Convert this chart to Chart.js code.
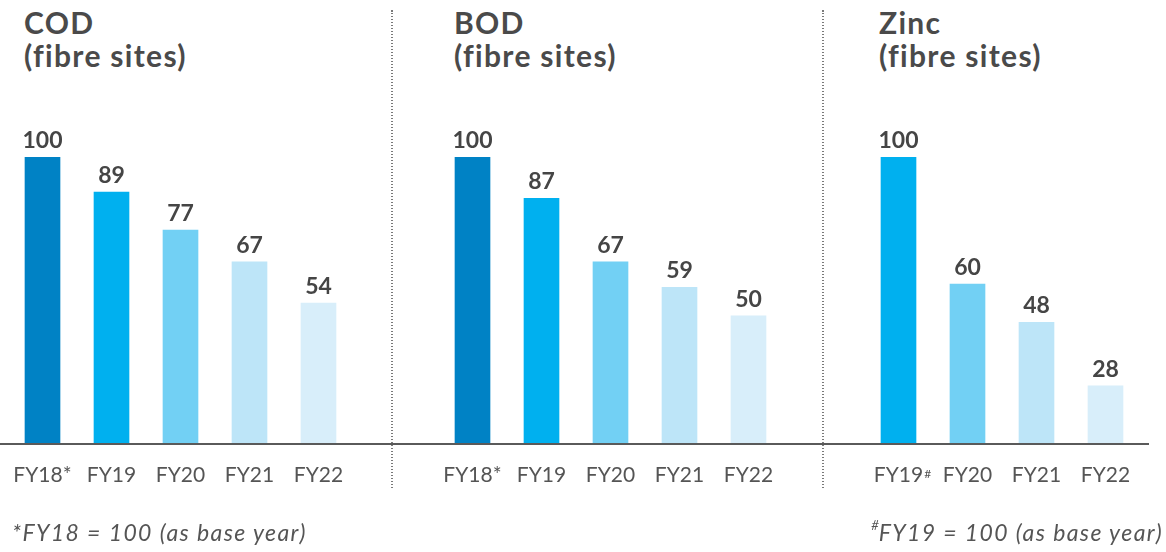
<!DOCTYPE html>
<html><head><meta charset="utf-8">
<script src="https://cdn.jsdelivr.net/npm/chart.js@4.4.1/dist/chart.umd.min.js"></script>
<style>
html,body{margin:0;padding:0;background:#fff;}
body{width:1166px;height:552px;position:relative;overflow:hidden;font-family:Lato,"Open Sans",sans-serif;}
canvas{position:absolute;top:0;}
.title{position:absolute;top:6px;font-family:Lato,sans-serif;font-weight:700;font-size:30px;line-height:33px;letter-spacing:1.3px;color:#4a4a4a;white-space:nowrap;}
.divider{position:absolute;top:10px;height:480px;width:2px;background:repeating-linear-gradient(to bottom,#7a7a7a 0 1.5px,transparent 1.5px 3px);}
.note{position:absolute;top:518px;font-family:Lato,sans-serif;font-style:italic;font-size:23px;letter-spacing:1.4px;color:#555;white-space:nowrap;}
.note sup{font-size:13px;position:relative;top:-2px;letter-spacing:0;}
</style>
</head><body>
<div class="title" style="left:24px">COD<br>(fibre sites)</div>
<div class="title" style="left:454px">BOD<br>(fibre sites)</div>
<div class="title" style="left:879px">Zinc<br>(fibre sites)</div>
<div class="divider" style="left:391px"></div>
<div class="divider" style="left:822px"></div>
<canvas id="c1" width="432" height="552" style="left:-40px"></canvas>
<canvas id="c2" width="431" height="552" style="left:392px"></canvas>
<canvas id="c3" width="343" height="552" style="left:823px"></canvas>
<div class="note" style="left:12px">*FY18 = 100 (as base year)</div>
<div class="note" style="right:3px"><sup>#</sup>FY19 = 100 (as base year)</div>
<script>
// ---- data ----
const codCategories = ['FY18*', 'FY19', 'FY20', 'FY21', 'FY22'];
const codValues = [100, 89, 77, 67, 54];
const bodCategories = ['FY18*', 'FY19', 'FY20', 'FY21', 'FY22'];
const bodValues = [100, 87, 67, 59, 50];
const zincCategories = ['FY19', 'FY20', 'FY21', 'FY22'];
const zincValues = [100, 60, 48, 28];
// ---- styles ----
const fiveColors = ['#0082c5', '#00b0ef', '#72d0f4', '#bde5f8', '#d8eefa'];
const fourColors = ['#00b0ef', '#72d0f4', '#bde5f8', '#d8eefa'];

const valueLabels = {
  id: 'valueLabels',
  afterDatasetsDraw(chart) {
    const ctx = chart.ctx;
    const meta = chart.getDatasetMeta(0);
    const data = chart.data.datasets[0].data;
    ctx.save();
    ctx.font = '700 23px Lato, sans-serif';
    ctx.fillStyle = '#454545';
    ctx.textAlign = 'center';
    ctx.textBaseline = 'alphabetic';
    meta.data.forEach((bar, i) => ctx.fillText(String(data[i]), bar.x, bar.y - 9));
    ctx.restore();
  }
};
const baseLine = {
  id: 'baseLine',
  afterDatasetsDraw(chart, args, opts) {
    const ctx = chart.ctx;
    const y = chart.chartArea.bottom + 1;
    ctx.save();
    ctx.strokeStyle = '#5a5a5a';
    ctx.lineWidth = 2;
    ctx.beginPath();
    ctx.moveTo(opts.start || 0, y);
    ctx.lineTo(opts.end, y);
    ctx.stroke();
    ctx.restore();
  }
};
const supMark = {
  id: 'supMark',
  afterDraw(chart, args, opts) {
    if (!opts.text) return;
    const ctx = chart.ctx;
    const xs = chart.scales.x;
    ctx.save();
    ctx.font = '21px Lato, sans-serif';
    const w = ctx.measureText(chart.data.labels[opts.index]).width;
    const x = xs.getPixelForTick(opts.index) + w / 2 + 1;
    ctx.font = '12px Lato, sans-serif';
    ctx.fillStyle = '#555';
    ctx.textAlign = 'left';
    ctx.textBaseline = 'top';
    ctx.fillText(opts.text, x, chart.chartArea.bottom + 25);
    ctx.restore();
  }
};

function makeChart(id, labels, values, colors, padL, padR, lineStart, lineEnd, sup) {
  return new Chart(document.getElementById(id), {
    type: 'bar',
    data: {
      labels: labels,
      datasets: [{ data: values, backgroundColor: colors, borderWidth: 0, barThickness: 35 }]
    },
    options: {
      responsive: false,
      animation: false,
      devicePixelRatio: 1,
      layout: { padding: { top: 157, left: padL, right: padR, bottom: 0 } },
      plugins: {
        legend: { display: false },
        tooltip: { enabled: false },
        baseLine: { start: lineStart, end: lineEnd },
        supMark: sup || {}
      },
      scales: {
        x: {
          grid: { display: false, drawTicks: false },
          border: { display: false },
          ticks: { color: '#555', font: { family: 'Lato', size: 21 }, padding: 20, maxRotation: 0, autoSkip: false },
          afterFit: (s) => { s.height = 109; }
        },
        y: { display: false, min: 10, max: 100 }
      }
    },
    plugins: [valueLabels, baseLine, supMark]
  });
}

makeChart('c1', codCategories, codValues, fiveColors, 48, 39, 40, 432);
makeChart('c2', bodCategories, bodValues, fiveColors, 46, 40, 0, 431);
makeChart('c3', zincCategories, zincValues, fourColors, 41, 26, 0, 326, { index: 0, text: '#' });
</script>
</body></html>
